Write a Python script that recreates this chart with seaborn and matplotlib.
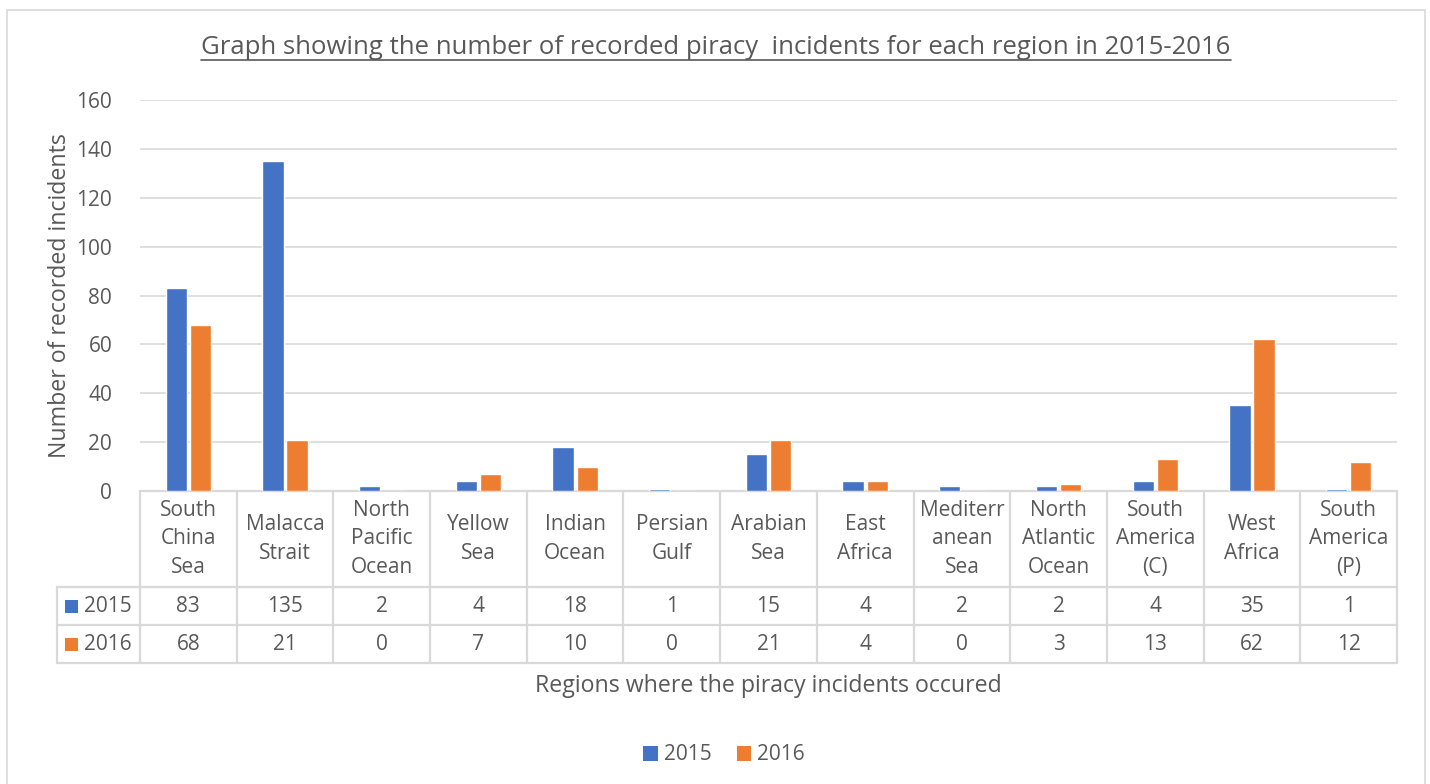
import matplotlib
matplotlib.use("Agg")
import matplotlib.pyplot as plt
import seaborn as sns
import pandas as pd
from matplotlib.transforms import blended_transform_factory
from matplotlib.lines import Line2D
from matplotlib.patches import Rectangle, Patch

# ---------------- data ----------------
regions = ["South\nChina\nSea", "Malacca\nStrait", "North\nPacific\nOcean", "Yellow\nSea",
           "Indian\nOcean", "Persian\nGulf", "Arabian\nSea", "East\nAfrica",
           "Mediterr\nanean\nSea", "North\nAtlantic\nOcean", "South\nAmerica\n(C)",
           "West\nAfrica", "South\nAmerica\n(P)"]
years = ["2015", "2016"]
v2015 = [83, 135, 2, 4, 18, 1, 15, 4, 2, 2, 4, 35, 1]
v2016 = [68, 21, 0, 7, 10, 0, 21, 4, 0, 3, 13, 62, 12]
yticks = [0, 20, 40, 60, 80, 100, 120, 140, 160]
colors = ["#4472C4", "#ED7D31"]
title = "Graph showing the number of recorded piracy  incidents for each region in 2015-2016"
xlabel = "Regions where the piracy incidents occured"
ylabel = "Number of recorded incidents"

# ---------------- style ----------------
sns.set_theme(style="white")
plt.rcParams['font.family'] = ['Open Sans', 'DejaVu Sans']
TXT = "#595959"
GRID = "#d9d9d9"
FS = 15
FS_AX = 16.7
FS_T = 18.5

W, H = 1430, 784
def fx(px):
    return px / W
def fy(py):
    return 1 - py / H

df = pd.DataFrame({
    "Region": regions * 2,
    "Year": [years[0]] * len(regions) + [years[1]] * len(regions),
    "Count": v2015 + v2016,
})

fig = plt.figure(figsize=(W / 100, H / 100), dpi=100)
fig.patch.set_facecolor("white")

# outer chart border
fig.add_artist(Rectangle((fx(7), fy(800)), fx(1425) - fx(7), fy(10) - fy(800),
                         transform=fig.transFigure, fill=False, edgecolor=GRID, lw=1.2))

ax = fig.add_axes([fx(140), fy(491), fx(1397) - fx(140), fy(100) - fy(491)])
ax.patch.set_alpha(0)
sns.barplot(data=df, x="Region", y="Count", hue="Year", order=regions, hue_order=years,
            palette=colors, width=0.5, gap=0.12, saturation=1, legend=False, ax=ax,
            errorbar=None)
ax.set_xlim(-0.5, len(regions) - 0.5)
ax.set_ylim(0, 160)
ax.set_yticks(yticks)
ax.set_yticklabels([str(t) for t in yticks])
ax.set_xticks([])
ax.set_xlabel("")
ax.set_ylabel("")
ax.grid(axis="y", color=GRID, lw=1.2)
ax.set_axisbelow(True)
for s in ax.spines.values():
    s.set_visible(False)
ax.tick_params(axis="y", length=0, pad=20, labelsize=FS, labelcolor=TXT)

# y label
fig.text(fx(60), fy(296), ylabel, rotation=90, ha="center", va="center", fontsize=FS_AX, color=TXT)

# title with underline
t = fig.text(fx(716), fy(48), title, ha="center", va="center", fontsize=FS_T, color=TXT)

# ---------------- data table ----------------
tr = blended_transform_factory(ax.transData, fig.transFigure)
n = len(regions)
y_top, y_r1, y_r2, y_bot = 491, 587, 625, 663
lw_t = 1.6
for i in range(n + 1):
    fig.add_artist(Line2D([i - 0.5, i - 0.5], [fy(y_top), fy(y_bot)], transform=tr,
                          color=GRID, lw=lw_t, zorder=-1))
fig.add_artist(Line2D([-0.5, n - 0.5], [fy(y_top), fy(y_top)], transform=tr, color=GRID,
                      lw=lw_t, zorder=-1))
for yy in (y_r1, y_r2, y_bot):
    fig.add_artist(Line2D([fx(57), fx(140)], [fy(yy), fy(yy)], transform=fig.transFigure,
                          color=GRID, lw=lw_t, zorder=-1))
    fig.add_artist(Line2D([-0.5, n - 0.5], [fy(yy), fy(yy)], transform=tr, color=GRID,
                          lw=lw_t, zorder=-1))
fig.add_artist(Line2D([fx(57), fx(57)], [fy(y_r1), fy(y_bot)], transform=fig.transFigure,
                      color=GRID, lw=lw_t, zorder=-1))

for i, r in enumerate(regions):
    fig.text(i, fy(539), r, transform=tr, ha="center", va="center", fontsize=FS,
             color=TXT, linespacing=1.48)
    fig.text(i, fy(606), str(v2015[i]), transform=tr, ha="center", va="center", fontsize=FS, color=TXT)
    fig.text(i, fy(644), str(v2016[i]), transform=tr, ha="center", va="center", fontsize=FS, color=TXT)

for yc, yr, c in ((606, years[0], colors[0]), (644, years[1], colors[1])):
    fig.add_artist(Rectangle((fx(65), fy(yc + 7)), fx(78) - fx(65), fy(yc - 6) - fy(yc + 7),
                             transform=fig.transFigure, color=c, lw=0))
    fig.text(fx(84), fy(yc), yr, ha="left", va="center", fontsize=FS, color=TXT)

# x label
fig.text(fx(768), fy(686), xlabel, ha="center", va="center", fontsize=FS_AX, color=TXT)

# bottom legend
handles = [Patch(facecolor=c, edgecolor="none", label=y) for c, y in zip(colors, years)]
fig.legend(handles=handles, loc="center", bbox_to_anchor=(fx(724), fy(755)), ncol=2,
           frameon=False, fontsize=FS, handlelength=0.7, handleheight=0.7,
           handletextpad=0.3, columnspacing=1.2, labelcolor=TXT)

# underline title
fig.canvas.draw()
bb = t.get_window_extent(fig.canvas.get_renderer())
fig.add_artist(Line2D([bb.x0 / W, bb.x1 / W], [(bb.y0 + 1) / H, (bb.y0 + 1) / H],
                      transform=fig.transFigure, color=TXT, lw=1.2))

fig.savefig("out.png", dpi=100, facecolor="white")
